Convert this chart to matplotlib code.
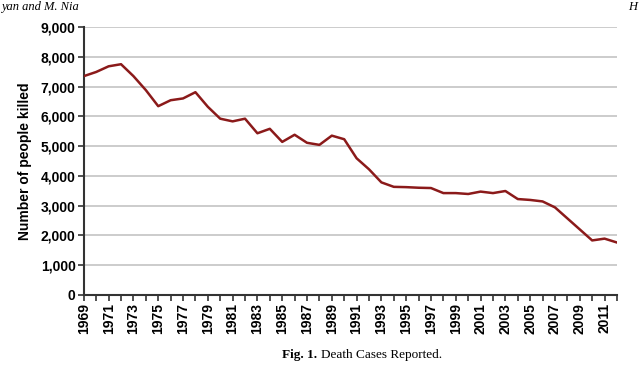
import matplotlib
matplotlib.use("Agg")
from matplotlib import pyplot as plt
from matplotlib.ticker import FuncFormatter, MultipleLocator

years = list(range(1969, 2013))
killed = [7350, 7490, 7680, 7750, 7350, 6880, 6340, 6540, 6600, 6810,
          6320, 5920, 5830, 5920, 5430, 5580, 5140, 5380, 5110, 5040,
          5350, 5230, 4590, 4220, 3780, 3630, 3620, 3600, 3590, 3420,
          3420, 3390, 3470, 3420, 3490, 3220, 3190, 3140, 2940, 2570,
          2200, 1830, 1890, 1760]

fig = plt.figure(figsize=(6.4, 3.7), dpi=100)
ax = fig.add_axes([0.131, 0.203, 0.833, 0.724])

ax.plot(years, killed, color='#8b1a1a', linewidth=1.8, zorder=3)

ax.set_xlim(1969, 2012)
ax.set_ylim(0, 9000)
ax.yaxis.set_major_locator(MultipleLocator(1000))
ax.yaxis.set_major_formatter(FuncFormatter(lambda v, p: f'{int(v):,}'))
ax.set_xticks(years)
ax.set_xticklabels([str(y) if (y - 1969) % 2 == 0 else '' for y in years],
                   rotation=90)
ax.grid(axis='y', color='#c4c4c4', linewidth=1.2)
ax.set_axisbelow(True)

for s in ['top', 'right']:
    ax.spines[s].set_visible(False)
for s in ['left', 'bottom']:
    ax.spines[s].set_color('#333333')
    ax.spines[s].set_linewidth(1.5)

ax.tick_params(axis='both', colors='#333333', width=1.2, length=4,
               labelcolor='black', labelsize=10, pad=2)
for lab in ax.get_xticklabels() + ax.get_yticklabels():
    lab.set_fontfamily('Liberation Sans')
    lab.set_fontweight('bold')

ax.set_ylabel('Number of people killed', fontsize=10, fontweight='bold',
              fontfamily='Liberation Sans', labelpad=6)

# page header fragments and caption
fig.text(0.002, 0.998, 'yan and M. Nia', ha='left', va='top',
         fontsize=9, style='italic', fontfamily='Liberation Serif')
fig.text(0.995, 0.998, 'H', ha='right', va='top',
         fontsize=9, style='italic', fontfamily='Liberation Serif')
cap1 = fig.text(0.44, 0.04, 'Fig. 1.', ha='left', va='center',
                fontsize=9.5, fontweight='bold', fontfamily='Liberation Serif')
fig.add_artist(matplotlib.text.Annotation(
    'Death Cases Reported.', xy=(1, 0), xycoords=cap1,
    xytext=(3, 0), textcoords='offset points', ha='left', va='bottom',
    fontsize=9.5, fontfamily='Liberation Serif'))

fig.savefig('out.png', dpi=100)
